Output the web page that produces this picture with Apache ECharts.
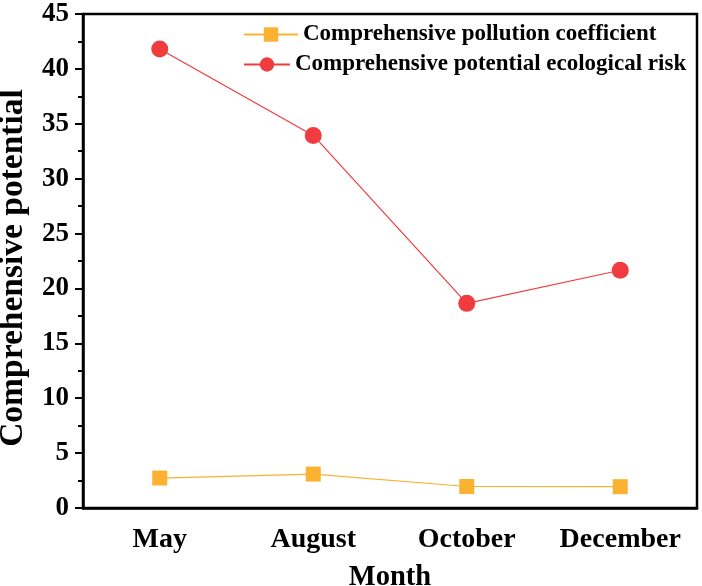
<!DOCTYPE html>
<html>
<head>
<meta charset="utf-8">
<script src="https://cdn.jsdelivr.net/npm/echarts@6/dist/echarts.min.js"></script>
<style>
html,body{margin:0;padding:0;background:#fff;}
#chart{width:702px;height:586px;}
</style>
</head>
<body>
<div id="chart"></div>
<script>
const months = ['May', 'August', 'October', 'December'];
const pollutionCoefficient = [2.73, 3.09, 1.96, 1.94];
const ecologicalRisk = [41.82, 33.94, 18.64, 21.66];
const seriesNames = ['Comprehensive pollution coefficient', 'Comprehensive potential ecological risk'];
const yAxisTitle = 'Comprehensive potential';
const xAxisTitle = 'Month';

const FONT = "'Times New Roman', 'Liberation Serif', serif";
const legendText = {fontFamily: FONT, fontWeight: 'bold', fontSize: 23, color: '#000', lineHeight: 25};
const chart = echarts.init(document.getElementById('chart'), null, {renderer: 'canvas'});
chart.setOption({
  backgroundColor: '#fff',
  animation: false,
  grid: {left: 83, right: 5, top: 14, bottom: 78, containLabel: false, outerBoundsMode: 'none',
         show: true, borderColor: '#000', borderWidth: 2.5, backgroundColor: 'transparent'},
  legend: [{
    orient: 'vertical', left: 243, top: 22, padding: 0,
    itemWidth: 54, itemHeight: 18,
    textStyle: legendText,
    data: [seriesNames[0]]
  }, {
    orient: 'vertical', left: 243, top: 52, padding: 0,
    itemWidth: 46, itemHeight: 18,
    textStyle: legendText,
    data: [seriesNames[1]]
  }],
  xAxis: [{
    type: 'category', data: months, position: 'bottom', boundaryGap: true,
    name: xAxisTitle, nameLocation: 'middle', nameGap: 55,
    nameTextStyle: {fontFamily: FONT, fontWeight: 'bold', fontSize: 28.5, color: '#000'},
    axisLine: {lineStyle: {color: '#000', width: 2.5}},
    axisTick: {alignWithLabel: true, length: 8, lineStyle: {color: '#000', width: 2}},
    axisLabel: {interval: 0, fontFamily: FONT, fontWeight: 'bold', fontSize: 28, color: '#000', margin: 18},
    splitLine: {show: false}
  }, {
    type: 'category', data: months, position: 'bottom', boundaryGap: true,
    axisLine: {show: false},
    axisTick: {alignWithLabel: false, length: 5, lineStyle: {color: '#000', width: 2}},
    axisLabel: {show: false},
    splitLine: {show: false}
  }],
  yAxis: {
    type: 'value', min: 0, max: 45, interval: 5,
    name: yAxisTitle, nameLocation: 'middle', nameGap: 53, nameRotate: 90,
    nameTextStyle: {fontFamily: FONT, fontWeight: 'bold', fontSize: 33.5, color: '#000', padding: [0, 14, 0, 0]},
    axisLine: {show: true, lineStyle: {color: '#000', width: 2.5}},
    axisTick: {show: true, length: 8, lineStyle: {color: '#000', width: 2}},
    minorTick: {show: true, splitNumber: 2, length: 5, lineStyle: {color: '#000', width: 2}},
    axisLabel: {fontFamily: FONT, fontWeight: 'bold', fontSize: 27, color: '#000', margin: 14},
    splitLine: {show: false}
  },
  series: [{
    name: seriesNames[0], type: 'line', data: pollutionCoefficient,
    symbol: 'rect', symbolSize: 15,
    lineStyle: {color: '#FBB231', width: 1.2},
    itemStyle: {color: '#FBB231'}
  }, {
    name: seriesNames[1], type: 'line', data: ecologicalRisk,
    symbol: 'circle', symbolSize: 17,
    lineStyle: {color: '#F03C3F', width: 1.2},
    itemStyle: {color: '#F03C3F'}
  }]
});
</script>
</body>
</html>
